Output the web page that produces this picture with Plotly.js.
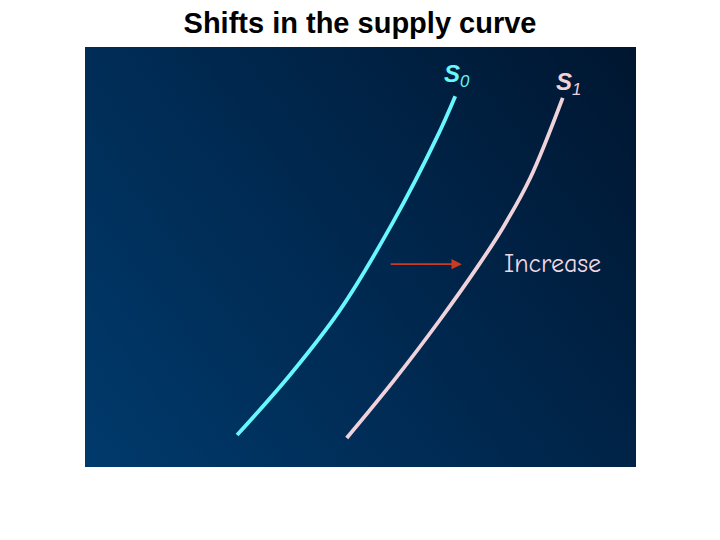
<!DOCTYPE html>
<html>
<head>
<meta charset="utf-8">
<script src="https://cdn.plot.ly/plotly-3.0.1.min.js"></script>
<style>html,body{margin:0;padding:0;background:#fff;}#chart{width:720px;height:540px;}</style>
</head>
<body>
<div id="chart"></div>
<script>
// Quantity / price coordinates (axis range 0-10 both ways)
const s0Quantity = [2.76, 3.72, 4.63, 5.59, 6.39, 6.72];
const s0Price    = [0.76, 2.19, 3.74, 5.83, 7.86, 8.83];
const s1Quantity = [4.75, 5.60, 6.44, 7.11, 7.59, 8.08, 8.67];
const s1Price    = [0.69, 2.05, 3.50, 4.74, 5.71, 6.88, 8.79];
const arrowFrom  = [5.52, 4.83];
const arrowTo    = [6.84, 4.83];
const s0Label    = [6.75, 9.32];
const s1Label    = [8.78, 9.13];
const increaseLabel = [8.48, 4.83];
const titleText  = 'Shifts in the supply curve';
const increaseText = 'Increase';

function gradientURL() {
  const c = document.createElement('canvas');
  c.width = 551; c.height = 420;
  const g = c.getContext('2d');
  const grad = g.createLinearGradient(0, c.height, c.width, 0);
  grad.addColorStop(0, '#003a6c');
  grad.addColorStop(0.5, '#00284f');
  grad.addColorStop(1, '#001630');
  g.fillStyle = grad;
  g.fillRect(0, 0, c.width, c.height);
  return c.toDataURL('image/png');
}

const traces = [
  {x: s0Quantity, y: s0Price, mode: 'lines', line: {color: '#66f7ff', width: 3.8, shape: 'spline', smoothing: 1}, hoverinfo: 'skip'},
  {x: s1Quantity, y: s1Price, mode: 'lines', line: {color: '#f0d2da', width: 3.8, shape: 'spline', smoothing: 1}, hoverinfo: 'skip'}
];

const axis = {range: [0, 10], showgrid: false, zeroline: false, showticklabels: false, showline: false, ticks: '', fixedrange: true};

const layout = {
  width: 720, height: 540,
  margin: {l: 85, r: 84, t: 47, b: 73},
  paper_bgcolor: '#ffffff',
  plot_bgcolor: 'rgba(0,0,0,0)',
  showlegend: false,
  title: {text: '<b>' + titleText + '</b>', x: 0.5, xanchor: 'center', y: 0.958, yanchor: 'middle',
          font: {family: 'Liberation Sans, Arial, sans-serif', size: 29, color: '#000000'}},
  xaxis: axis,
  yaxis: Object.assign({}, axis),
  images: [{source: gradientURL(), xref: 'paper', yref: 'paper', x: 0, y: 1, sizex: 1, sizey: 1,
            xanchor: 'left', yanchor: 'top', sizing: 'stretch', layer: 'below'}],
  annotations: [
    {x: arrowTo[0], y: arrowTo[1], ax: arrowFrom[0], ay: arrowFrom[1], axref: 'x', ayref: 'y',
     xref: 'x', yref: 'y', text: '', showarrow: true, arrowhead: 2, arrowsize: 1.3, arrowwidth: 1.6, arrowcolor: '#cc3a22'},
    {x: s0Label[0], y: s0Label[1], xref: 'x', yref: 'y', showarrow: false,
     text: '<b><i>S</i></b><sub><i>0</i></sub>',
     font: {family: 'Liberation Sans, Arial, sans-serif', size: 24, color: '#66f7ff'}},
    {x: s1Label[0], y: s1Label[1], xref: 'x', yref: 'y', showarrow: false,
     text: '<b><i>S</i></b><sub><i>1</i></sub>',
     font: {family: 'Liberation Sans, Arial, sans-serif', size: 24, color: '#f0d2da'}},
    {x: increaseLabel[0], y: increaseLabel[1], xref: 'x', yref: 'y', showarrow: false,
     text: increaseText,
     font: {family: 'Comic Sans MS, Comic Neue, DejaVu Sans, sans-serif', size: 26, color: '#f0d8e2'}}
  ]
};

Plotly.newPlot('chart', traces, layout, {staticPlot: true, displayModeBar: false});
</script>
</body>
</html>
